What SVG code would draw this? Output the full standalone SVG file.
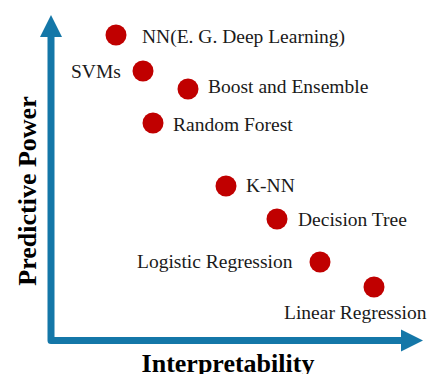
<svg xmlns="http://www.w3.org/2000/svg" width="429" height="374" viewBox="0 0 429 374">
<style>
.dot{fill:#C00000}
.lbl{font-family:"Liberation Serif","Times New Roman",serif;font-size:19.5px;fill:#1a1a1a}
.ax{font-family:"Liberation Serif","Times New Roman",serif;font-size:26px;font-weight:bold;fill:#000}
.axis{fill:none;stroke:#1477A8;stroke-width:7;stroke-linejoin:round}
.head{fill:#1477A8}
</style>
<rect width="429" height="374" fill="#fff"/>
<g id="axes">
<path class="axis" d="M51,34 V340.5 H404"/>
<polygon class="head" points="51,15 62,37 40,37"/>
<polygon class="head" points="423,340.5 401,329.5 401,351.5"/>
</g>
<text class="ax" transform="translate(36,191) rotate(-90)" text-anchor="middle">Predictive Power</text>
<text class="ax" x="228" y="372" text-anchor="middle" font-size="27">Interpretability</text>
<g id="nn"><circle class="dot" cx="116" cy="35" r="10.5"/><text class="lbl" x="142" y="43">NN(E. G. Deep Learning)</text></g>
<g id="svm"><circle class="dot" cx="143" cy="71" r="10.5"/><text class="lbl" x="71" y="78">SVMs</text></g>
<g id="boost"><circle class="dot" cx="188" cy="89" r="10.5"/><text class="lbl" x="208" y="93">Boost and Ensemble</text></g>
<g id="rf"><circle class="dot" cx="153" cy="123" r="10.5"/><text class="lbl" x="173" y="131">Random Forest</text></g>
<g id="knn"><circle class="dot" cx="226" cy="186" r="10.5"/><text class="lbl" x="246" y="192">K-NN</text></g>
<g id="dt"><circle class="dot" cx="277" cy="219" r="10.5"/><text class="lbl" x="298" y="226">Decision Tree</text></g>
<g id="lr"><circle class="dot" cx="320" cy="262" r="10.5"/><text class="lbl" x="137" y="268">Logistic Regression</text></g>
<g id="lin"><circle class="dot" cx="374" cy="287" r="10.5"/><text class="lbl" x="284" y="319">Linear Regression</text></g>
<g id="connectors"></g>
</svg>
